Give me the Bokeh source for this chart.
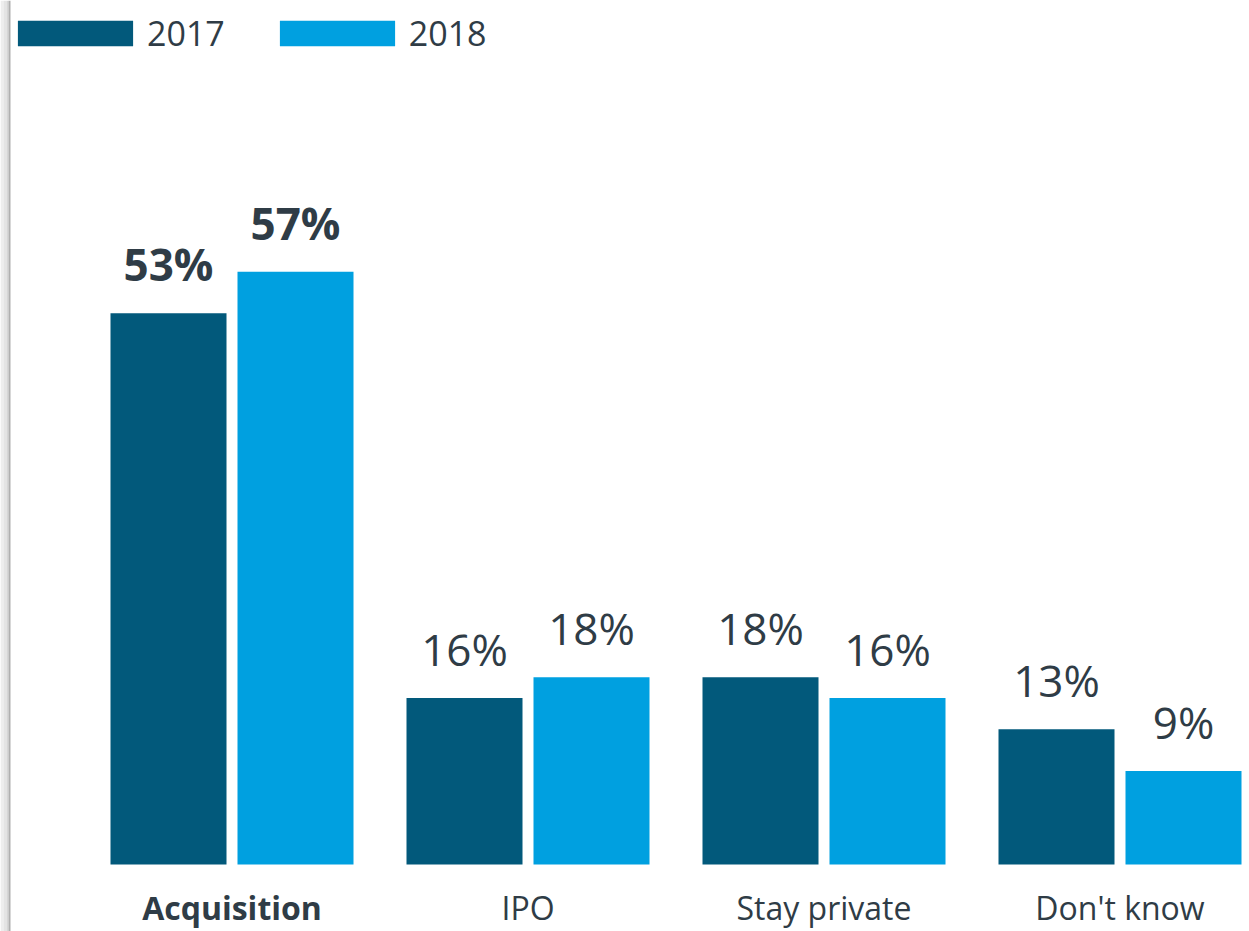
from bokeh.plotting import figure
from bokeh.models import Range1d, ColumnDataSource, Legend, LegendItem, BoxAnnotation
from bokeh.embed import file_html
from bokeh.resources import INLINE
from bokeh.core.properties import value

# ---- data ----
categories = ["Acquisition", "IPO", "Stay private", "Don't know"]
years = ["2017", "2018"]
values_2017 = [53, 16, 18, 13]
values_2018 = [57, 18, 16, 9]
highlight = "Acquisition"

# ---- styling ----
C2017 = "#02597B"
C2018 = "#00A0E0"
TEXT = "#2F3C46"
FONT = "Open Sans"

W, H = 1249, 931
BASE = 864             # px of the zero line from top
PXV = 10.4             # px per percentage point
UNIT = 296.0           # px per category
x_start = -231.5 / UNIT
y_top = BASE / PXV
y_bot = -(H - BASE) / PXV

OFF = 63.5 / UNIT
BW = 116 / UNIT

p = figure(width=W, height=H, output_backend="svg", toolbar_location=None,
           x_range=Range1d(x_start, x_start + W / UNIT),
           y_range=Range1d(y_bot, y_top), min_border=0)
p.axis.visible = False
p.grid.visible = False
p.outline_line_color = None
p.background_fill_color = "white"
p.border_fill_color = "white"

# left grey page-edge shading
for a, b, col in [(0, 3, "#EEEEEE"), (3, 6, "#E4E4E4"), (6, 8, "#D6D6D6"), (8, 10, "#B0B0B0")]:
    p.add_layout(BoxAnnotation(left=x_start + a / UNIT, right=x_start + b / UNIT,
                               fill_color=col, fill_alpha=1, line_color=None))

idx = list(range(len(categories)))
styles = ["bold" if c == highlight else "normal" for c in categories]

src17 = ColumnDataSource(dict(x=[i - OFF for i in idx], top=values_2017,
                              lab=[f"{v}%" for v in values_2017], style=styles))
src18 = ColumnDataSource(dict(x=[i + OFF for i in idx], top=values_2018,
                              lab=[f"{v}%" for v in values_2018], style=styles))

r17 = p.vbar(x="x", top="top", bottom=0, width=BW, source=src17,
             fill_color=C2017, line_color=None)
r18 = p.vbar(x="x", top="top", bottom=0, width=BW, source=src18,
             fill_color=C2018, line_color=None)

for src in (src17, src18):
    p.text(x="x", y="top", text="lab", source=src, text_align="center",
           text_baseline="alphabetic", y_offset=-49,
           text_font=value(FONT), text_font_size="44px",
           text_font_style="style", text_color=TEXT)

cat_src = ColumnDataSource(dict(x=idx, y=[0] * len(idx), text=categories, style=styles))
p.text(x="x", y="y", text="text", source=cat_src, text_align="center",
       text_baseline="middle", y_offset=43,
       text_font=value(FONT), text_font_size="32px",
       text_font_style="style", text_color=TEXT)

legend = Legend(items=[LegendItem(label=years[0], renderers=[r17]),
                       LegendItem(label=years[1], renderers=[r18])],
                orientation="horizontal", location=(3.0, H - 8 - 50),
                glyph_width=144, glyph_height=32, label_height=50,
                label_standoff=0, spacing=40, padding=0, margin=0,
                label_text_font=FONT, label_text_font_size="34px",
                label_text_color=TEXT, label_text_baseline="middle",
                border_line_color=None, background_fill_alpha=0)
p.add_layout(legend)

open("out.html", "w").write(file_html(p, INLINE))
